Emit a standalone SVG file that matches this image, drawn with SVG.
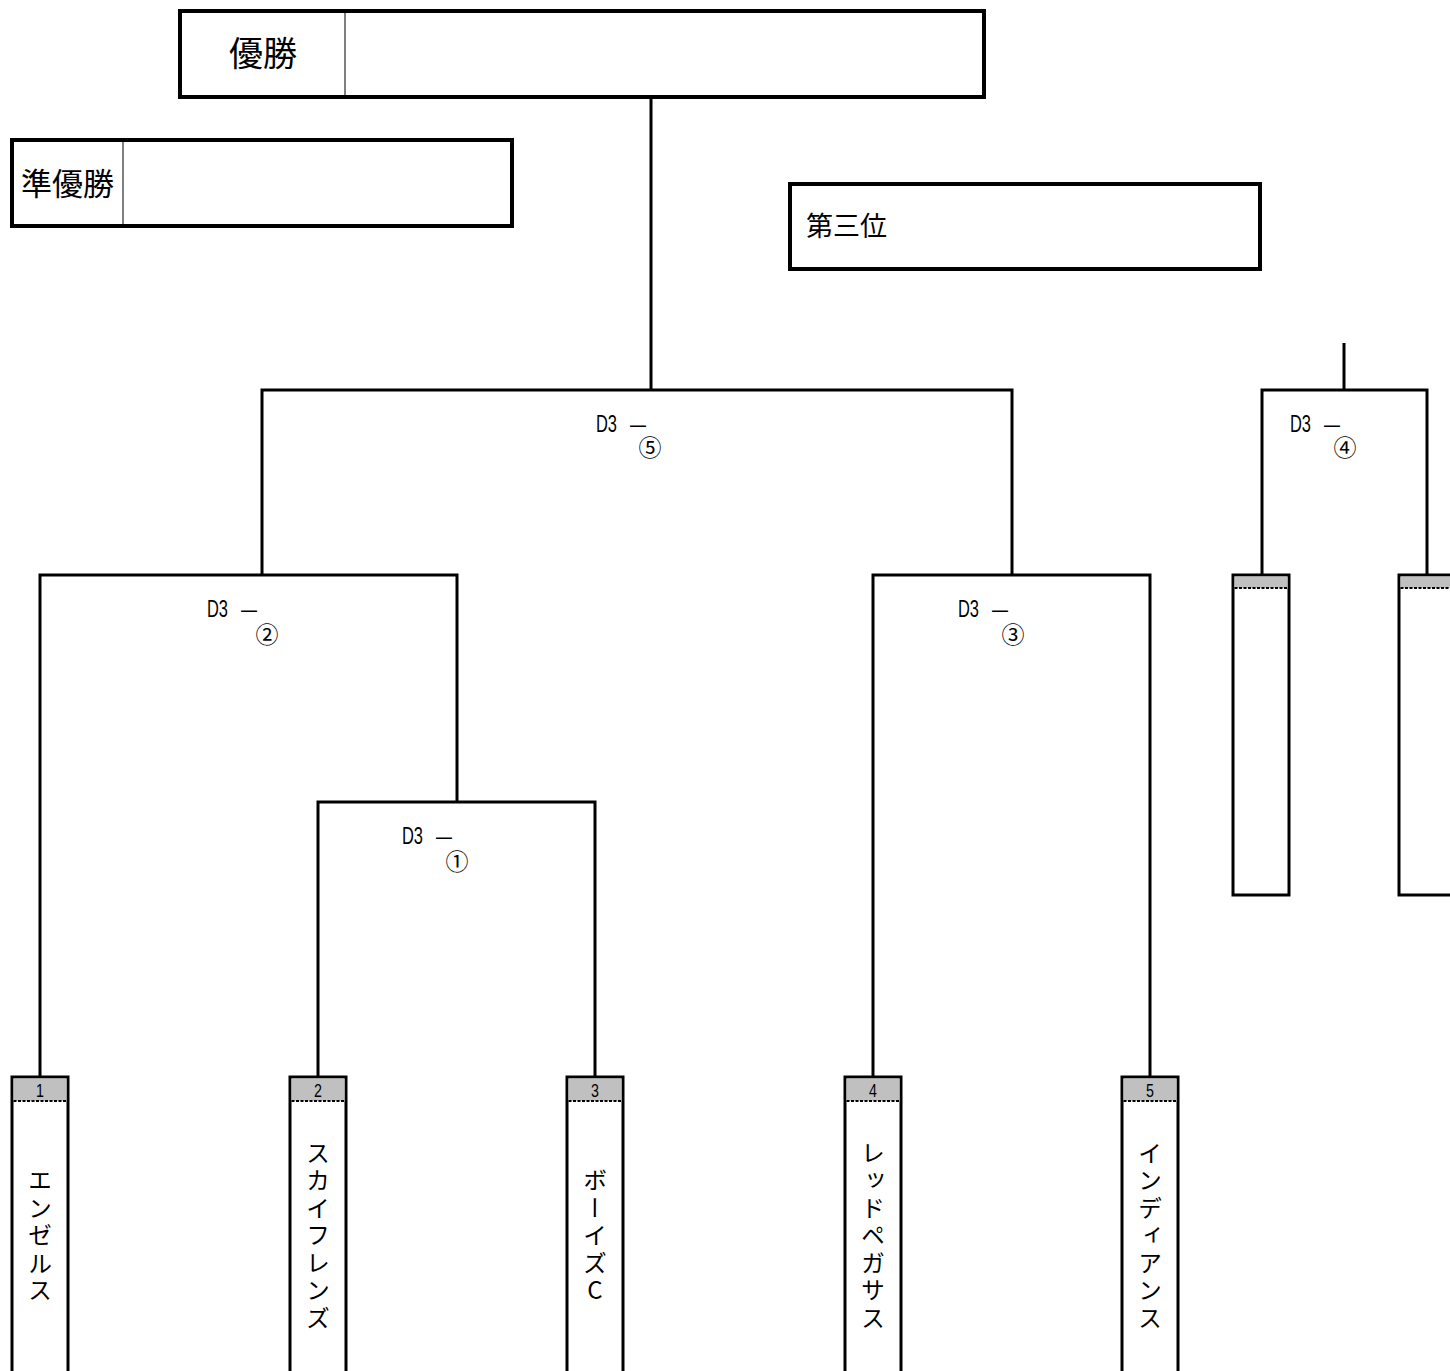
<svg xmlns="http://www.w3.org/2000/svg" width="1450" height="1371" viewBox="0 0 1450 1371">
<style>
.box{fill:#fff;stroke:#000;stroke-width:3}
.tbox{fill:#fff;stroke:#000;stroke-width:4}
.div{stroke:#000;stroke-width:1}
.hdr{fill:#c0c0c0}
.dot{stroke:#000;stroke-width:2;stroke-dasharray:3 1.5}
.con{fill:none;stroke:#000;stroke-width:3}
.jp{font-family:"Noto Sans CJK JP","Noto Sans",sans-serif;fill:#000}
.lbl{font-family:"Liberation Sans",Arial,sans-serif;font-size:24px;fill:#000}
.num{font-family:"Liberation Sans",Arial,sans-serif;font-size:19px;fill:#000;text-anchor:middle}
.circ{font-family:"Noto Sans CJK JP",sans-serif;font-size:23px;text-anchor:middle}
.name{font-family:"Noto Sans CJK JP",sans-serif;font-size:24px;writing-mode:vertical-rl;text-orientation:upright;text-anchor:middle;letter-spacing:3.5px;fill:#000}
</style>
<rect width="1450" height="1371" fill="#fff"/>
<g id="connectors">
<path class="con" d="M651 97V390"/>
<path class="con" d="M262 575V390H1012V575"/>
<path class="con" d="M40 1077V575H457V802"/>
<path class="con" d="M318 1077V802H595V1077"/>
<path class="con" d="M873 1077V575H1150V1077"/>
<path class="con" d="M1344 343V390"/>
<path class="con" d="M1262 575V390H1427V575"/>
</g>
<g id="champion">
<rect class="tbox" x="180" y="11" width="804" height="86"/>
<line class="div" x1="345" y1="11" x2="345" y2="97"/>
<text class="jp" x="263" y="66" font-size="34" text-anchor="middle">優勝</text>
</g>
<g id="runnerup">
<rect class="tbox" x="12" y="140" width="500" height="86"/>
<line class="div" x1="123" y1="140" x2="123" y2="226"/>
<text class="jp" x="21" y="195" font-size="31">準優勝</text>
</g>
<g id="third">
<rect class="tbox" x="790" y="184" width="470" height="85"/>
<text class="jp" x="806" y="236" font-size="27">第三位</text>
</g>
<g id="match5">
<text class="lbl" x="596" y="432"><tspan textLength="21" lengthAdjust="spacingAndGlyphs">D3</tspan><tspan x="630" textLength="16" lengthAdjust="spacingAndGlyphs">—</tspan><tspan class="circ" x="650" y="456">⑤</tspan></text>
</g>
<g id="match2">
<text class="lbl" x="207" y="617"><tspan textLength="21" lengthAdjust="spacingAndGlyphs">D3</tspan><tspan x="241" textLength="16" lengthAdjust="spacingAndGlyphs">—</tspan><tspan class="circ" x="267" y="643">②</tspan></text>
</g>
<g id="match1">
<text class="lbl" x="402" y="844"><tspan textLength="21" lengthAdjust="spacingAndGlyphs">D3</tspan><tspan x="436" textLength="16" lengthAdjust="spacingAndGlyphs">—</tspan><tspan class="circ" x="457" y="870">①</tspan></text>
</g>
<g id="match3">
<text class="lbl" x="958" y="617"><tspan textLength="21" lengthAdjust="spacingAndGlyphs">D3</tspan><tspan x="992" textLength="16" lengthAdjust="spacingAndGlyphs">—</tspan><tspan class="circ" x="1013" y="643">③</tspan></text>
</g>
<g id="match4">
<text class="lbl" x="1290" y="432"><tspan textLength="21" lengthAdjust="spacingAndGlyphs">D3</tspan><tspan x="1324" textLength="16" lengthAdjust="spacingAndGlyphs">—</tspan><tspan class="circ" x="1345" y="456">④</tspan></text>
</g>
<g id="team1">
<rect class="box" x="12" y="1077" width="56" height="300"/>
<rect class="hdr" x="13.5" y="1078.5" width="53" height="22.5"/>
<line class="dot" x1="13.5" y1="1101" x2="66.5" y2="1101"/>
<text class="num" transform="translate(40 1097) scale(0.75 1)">1</text>
<text class="name" x="40" y="1237">エンゼルス</text>
</g>
<g id="team2">
<rect class="box" x="290" y="1077" width="56" height="300"/>
<rect class="hdr" x="291.5" y="1078.5" width="53" height="22.5"/>
<line class="dot" x1="291.5" y1="1101" x2="344.5" y2="1101"/>
<text class="num" transform="translate(318 1097) scale(0.75 1)">2</text>
<text class="name" x="318" y="1237">スカイフレンズ</text>
</g>
<g id="team3">
<rect class="box" x="567" y="1077" width="56" height="300"/>
<rect class="hdr" x="568.5" y="1078.5" width="53" height="22.5"/>
<line class="dot" x1="568.5" y1="1101" x2="621.5" y2="1101"/>
<text class="num" transform="translate(595 1097) scale(0.75 1)">3</text>
<text class="name" x="595" y="1237">ボーイズC</text>
</g>
<g id="team4">
<rect class="box" x="845" y="1077" width="56" height="300"/>
<rect class="hdr" x="846.5" y="1078.5" width="53" height="22.5"/>
<line class="dot" x1="846.5" y1="1101" x2="899.5" y2="1101"/>
<text class="num" transform="translate(873 1097) scale(0.75 1)">4</text>
<text class="name" x="873" y="1237">レッドペガサス</text>
</g>
<g id="team5">
<rect class="box" x="1122" y="1077" width="56" height="300"/>
<rect class="hdr" x="1123.5" y="1078.5" width="53" height="22.5"/>
<line class="dot" x1="1123.5" y1="1101" x2="1176.5" y2="1101"/>
<text class="num" transform="translate(1150 1097) scale(0.75 1)">5</text>
<text class="name" x="1150" y="1237">インディアンス</text>
</g>
<g id="slot6">
<rect class="box" x="1233" y="575" width="56" height="320"/>
<rect class="hdr" x="1234.5" y="576.5" width="53" height="11.5"/>
<line class="dot" x1="1234.5" y1="588" x2="1287.5" y2="588"/>
</g>
<g id="slot7">
<rect class="box" x="1399" y="575" width="56" height="320"/>
<rect class="hdr" x="1400.5" y="576.5" width="53" height="11.5"/>
<line class="dot" x1="1400.5" y1="588" x2="1453.5" y2="588"/>
</g>
</svg>
